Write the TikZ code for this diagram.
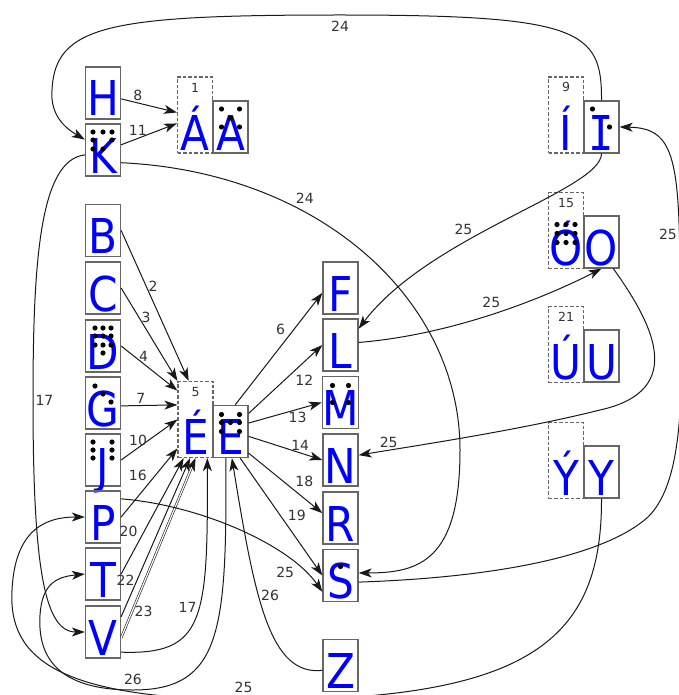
\documentclass[tikz,border=0pt]{standalone}
\usepackage{fontspec}
\setmainfont{DejaVu Sans}
\newfontfamily\letterfont{DejaVu Sans}[FakeStretch=0.88]
\newfontfamily\serifletter{DejaVu Sans Mono}[FakeStretch=0.88]
\usetikzlibrary{arrows.meta}
\newcommand\braille[2]{\foreach \dx/\dy in {#2} \fill ([shift={(\dx,\dy)}]#1.center) circle (2.6pt);}

\begin{document}
\begin{tikzpicture}[x=1pt, y=-1pt,
    box/.style={draw=black!60, line width=1.3pt, minimum width=35pt, minimum height=52pt, inner sep=0pt,
      text height=47pt, text depth=1pt, text=blue, font=\letterfont\fontsize{48}{48}\selectfont},
    accent/.style={box, line width=1.1pt, dash pattern=on 3.5pt off 2pt, minimum height=76pt, text height=71pt},
    edge/.style={draw=black!90, line width=1pt, -{Stealth[length=13pt, width=9pt, inset=3.5pt]}},
    lbl/.style={text=black!80, font=\fontsize{14}{14}\selectfont, inner sep=2pt},
    num/.style={text=black!80, font=\fontsize{12.5}{12.5}\selectfont, inner sep=0pt}]

    \path[use as bounding box, fill=white] (0,0) rectangle (678,695);

    % left column
    \node[box] (H) at (103,93) {H};
    \node[box] (K) at (103,150) {K};
    \node[box] (B) at (103,230.5) {B};
    \node[box] (C) at (103,288) {C};
    \node[box] (D) at (103,346) {D};
    \node[box] (G) at (103,403) {G};
    \node[box] (J) at (103,460) {J};
    \node[box] (P) at (103,517) {P};
    \node[box] (T) at (103,574) {T};
    \node[box] (V) at (103,632) {V};

    % accented pairs
    \node[accent] (Aa) at (195,115) {Á};
    \node[box] (A) at (230.5,127) {A};
    \node[accent] (Ea) at (195.5,419.5) {É};
    \node[box] (E) at (230.5,431.5) {E};
    \node[accent] (Ia) at (566,115) {Í};
    \node[box, font=\serifletter\fontsize{48}{48}\selectfont] (I) at (601.5,127) {I};
    \node[accent] (Oa) at (566,230.5) {Ó};
    \node[box] (O) at (601.5,242) {O};
    \node[accent] (Ua) at (566,344.5) {Ú};
    \node[box] (U) at (601.5,356) {U};
    \node[accent] (Ya) at (566,460.5) {Ý};
    \node[box] (Y) at (601.5,472) {Y};

    \node[num] (n1) at ([yshift=-11pt]Aa.north) {1};
    \node[num] (n5) at ([yshift=-11pt]Ea.north) {5};
    \node[num] (n9) at ([yshift=-11pt]Ia.north) {9};
    \node[num] (n15) at ([yshift=-11pt]Oa.north) {15};
    \node[num] (n21) at ([yshift=-11pt]Ua.north) {21};

    % middle column
    \node[box] (F) at (340.5,288) {F};
    \node[box] (L) at (340.5,345) {L};
    \node[box] (M) at (340.5,402.5) {M};
    \node[box] (N) at (340.5,460) {N};
    \node[box] (R) at (340.5,518) {R};
    \node[box] (S) at (340.5,575.5) {S};
    \node[box] (Z) at (340.5,665.5) {Z};

    % braille dots
    \braille{K}{-10/-18, 0/-18, 9/-18, -10/-10, 9/-10, -10/-1, 0/-1}
    \braille{D}{-8/-18, 0/-18, 8/-18, -8/-10, 0/-10, 8/-10, -8/-1, 0/-1, 8/-1, 0/7}
    \braille{G}{-8/-17, 0/-9, 8/-1}
    \braille{J}{-10/-18, 9/-18, -10/-10, 9/-10, -10/-2, 9/-2}
    \braille{A}{-9/-18, 9/-18, 0/-9, -9/0, 9/0}
    \braille{E}{-9/-17, 9/-17, -9/-9, 0/-9, 9/-9, -9/0, 9/0}
    \braille{M}{-8/-17, 8/-17, -8/0, 8/0}
    \braille{S}{0/-9}
    \braille{I}{-9/-18, 8/0}
    \braille{Oa}{-9/-6, 0/-6, 9/-6, -9/3, 0/3, 9/3, -9/12, 0/12, 9/12}

    \draw[edge] (H.-18) -- (Aa.172) node[lbl, pos=.3, above] {8};
    \draw[edge] (K.16) -- (Aa.205) node[lbl, pos=.3, above] {11};

    \draw[edge] (B.east) -- (Ea.100) node[lbl, pos=.37, right] {2};
    \draw[edge] (C.east) -- (Ea.north west) node[lbl, pos=.32, right] {3};
    \draw[edge] (D.east) -- (Ea.122) node[lbl, pos=.4, above] {4};
    \draw[edge] (G.-9) -- (Ea.141) node[lbl, pos=.35, above] {7};
    \draw[edge] (J.east) -- (Ea.west) node[lbl, pos=.3, above] {10};
    \draw[edge] (P.east) -- (Ea.238) node[lbl, pos=.5, above left] {16};
    \draw[edge] (T.east) -- (Ea.253) node[lbl, pos=.3, above left] {20};
    \draw[edge] (V.40) -- (Ea.262) node[lbl, pos=.23, left] {22};
    \draw[edge, double, double distance=1.2pt, line width=0.6pt] (V.-18) -- (Ea.south) node[lbl, pos=.15, right] {23};

    \draw[edge] (E.80) -- (F.195) node[lbl, pos=.6, above left] {6};
    \draw[edge] (E.45) -- (L.west) node[lbl, pos=.6, below right] {12};
    \draw[edge] (E.25) -- (M.west) node[lbl, pos=.67, below] {13};
    \draw[edge] (E.-15) -- (N.west) node[lbl, pos=.7, above] {14};
    \draw[edge] (E.-50) -- (R.165) node[lbl, pos=.6, above right] {18};
    \draw[edge] (E.-70) -- (S.west) node[lbl, pos=.55, above right] {19};

    % 17
    \draw[edge] (K.195) .. controls (40,160) and (33,260) .. (33,400) node[lbl, right] {17}
        .. controls (33,570) and (45,632) .. (V.west);
    \draw[edge] (V.-48) .. controls (205,655) and (208,620) .. (Ea.-73) node[lbl, pos=.55, left] {17};

    % 24
    \draw[edge] (I.north) .. controls (602,30) and (580,15) .. (340,15) node[lbl, below=4pt] {24}
        .. controls (110,15) and (55,25) .. (52,90) .. controls (50,115) and (65,128) .. (K.150);
    \draw[edge] (K.-35) .. controls (320,172) and (460,300) .. (460,450) node[lbl, pos=.35, above=6pt] {24}
        .. controls (460,560) and (420,573) .. (S.8);

    % 25
    \draw[edge] (Y.south) .. controls (602,640) and (530,700) .. (260,700) node[lbl, above left=5pt] {25}
        .. controls (60,700) and (8,660) .. (12,590) .. controls (15,530) and (45,517) .. (P.west);
    \draw[edge] (P.45) .. controls (200,505) and (290,545) .. (S.-138) node[lbl, pos=.8, below left] {25};
    \draw[edge] (S.-20) .. controls (480,578) and (600,560) .. (648,517) .. controls (686,480) and (682,380) .. (680,300)
        .. controls (680,160) and (676,128) .. (I.east) node[lbl, pos=.18, left] {25};
    \draw[edge] (I.south) .. controls (601,190) and (430,235) .. (L.42) node[lbl, pos=.6, above left] {25};
    \draw[edge] (L.8) .. controls (450,335) and (540,300) .. (O.south) node[lbl, pos=.5, above=4pt] {25};
    \draw[edge] (O.-66) .. controls (650,320) and (690,390) .. (600,410)
        .. controls (520,430) and (420,445) .. (N.15) node[lbl, pos=.85, above] {25};

    % 26
    \draw[edge] (Z.-165) .. controls (270,676) and (255,600) .. (E.-87) node[lbl, pos=.6, right] {26};
    \draw[edge] (E.-100) .. controls (227,630) and (222,690) .. (133,690) node[lbl, above=3pt] {26}
        .. controls (50,690) and (38,650) .. (40,615) .. controls (42,585) and (55,577) .. (T.west);
\end{tikzpicture}
\end{document}
